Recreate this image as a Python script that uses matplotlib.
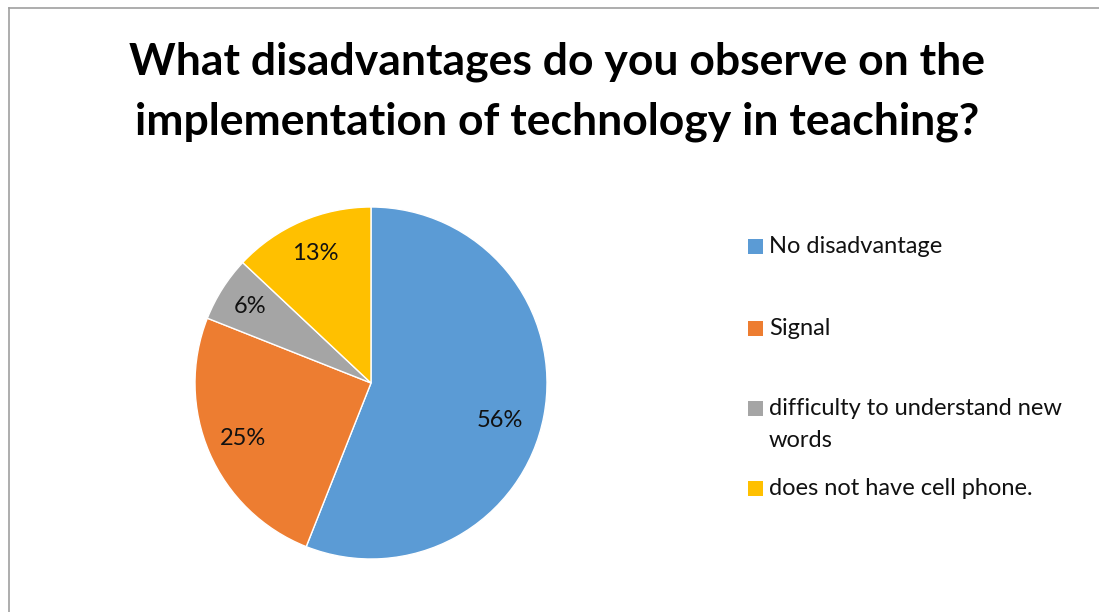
import numpy as np
import matplotlib
matplotlib.use("Agg")
import matplotlib.pyplot as plt
from matplotlib.patches import Rectangle
from matplotlib.lines import Line2D

categories = ["No disadvantage", "Signal", "difficulty to understand new\nwords", "does not have cell phone."]
shares = [56, 25, 6, 13]
colors = ["#5B9BD5", "#ED7D31", "#A5A5A5", "#FFC000"]
title_lines = ["What disadvantages do you observe on the",
               "implementation of technology in teaching?"]

W, H = 1099, 612
fig = plt.figure(figsize=(W / 100, H / 100), dpi=100)
fig.patch.set_facecolor("white")


def fx(px):
    return px / W


def fy(py):
    return 1 - py / H


# chart frame: left and top edges visible
fig.add_artist(Line2D([fx(8.5), fx(8.5)], [0, fy(7.5)], color="#A0A0A0", lw=1.2))
fig.add_artist(Line2D([fx(8.5), 1], [fy(7.5), fy(7.5)], color="#A0A0A0", lw=1.2))

# title, one baseline per line
for line, base in zip(title_lines, [74, 134]):
    fig.text(fx(557), fy(base), line, ha="center", va="baseline", fontsize=32,
             fontweight="bold", family="Lato", color="black")

# pie axes: center (371, 383), radius 176 px
cx, cy, r = 371, 383, 176
ax = fig.add_axes([fx(cx - r), fy(cy + r), 2 * r / W, 2 * r / H])
wedges, texts, autotexts = ax.pie(
    shares, colors=colors, startangle=90, counterclock=False,
    autopct=lambda p: f"{p:.0f}%", pctdistance=0.79,
    wedgeprops=dict(edgecolor="white", linewidth=1.0),
    textprops=dict(fontsize=17, family="Lato", color="#111111"))

# best-fit label placement: rotate the largest slice's label a little lower
label_turn = [-5.5, 0, 0, 0]
label_dist = [0.765, 0.79, 0.815, 0.80]
for w, t, turn, dist in zip(wedges, autotexts, label_turn, label_dist):
    ang = np.deg2rad((w.theta1 + w.theta2) / 2 + turn)
    t.set_position((dist * np.cos(ang), dist * np.sin(ang)))

ax.set_xlim(-1, 1)
ax.set_ylim(-1, 1)
ax.set_aspect("equal")
ax.axis("off")

# legend entries: square marker plus label lines
baselines = [253, 335, 415, 495]
for label, col, base in zip(categories, colors, baselines):
    fig.add_artist(Rectangle((fx(748), fy(base + 0.5)), 15 / W, 15 / H,
                             transform=fig.transFigure, facecolor=col, edgecolor="none"))
    for i, part in enumerate(label.split("\n")):
        fig.text(fx(769), fy(base + 32 * i), part, ha="left", va="baseline",
                 fontsize=17, family="Lato", color="#111111")

fig.savefig("out.png", dpi=100)
